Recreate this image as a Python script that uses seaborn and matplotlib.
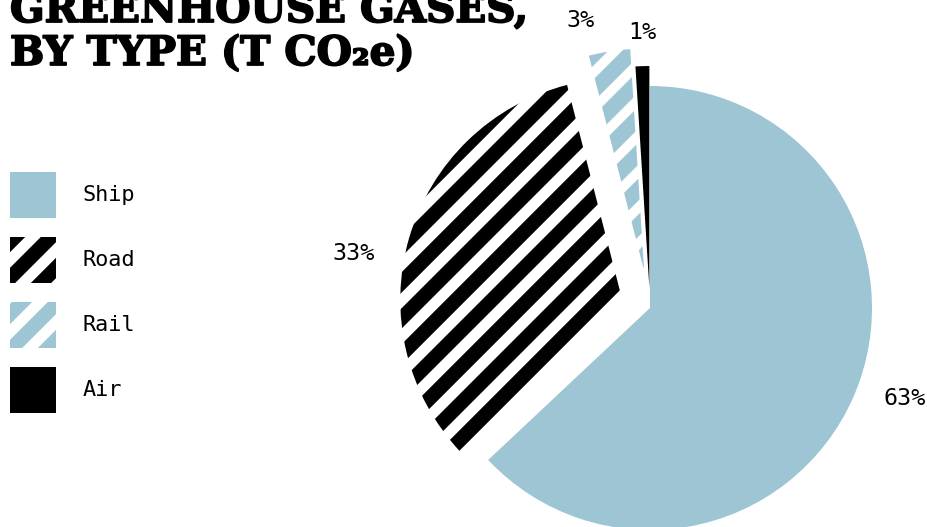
import matplotlib
matplotlib.use("Agg")
import matplotlib.pyplot as plt
import matplotlib.patheffects as pe
import seaborn as sns

# Transport emissions by mode (share of t CO2e)
modes = ["Ship", "Road", "Rail", "Air"]
shares = [63, 33, 3, 1]
title_lines = ["GREENHOUSE GASES,", "BY TYPE (T CO₂e)"]

LIGHT_BLUE = "#9dc5d3"
face_colors = [LIGHT_BLUE, "white", "white", "black"]
stripe_colors = [LIGHT_BLUE, "black", LIGHT_BLUE, "black"]
hatches = [None, "//", "//", None]
stripe_widths = [1.0, 4.8, 5.2, 1.0]
explode = [0.0, 0.13, 0.17, 0.09]
# nudges for the percentage labels, in pixels (right, down)
label_nudge = [(10, -15), (-13, 28), (-22, 13), (1, 11)]

sns.set_theme(style="white")
plt.rcParams["hatch.linewidth"] = 4.8

DPI = 216
W, H = 927, 527
fig = plt.figure(figsize=(W / DPI, H / DPI), dpi=DPI)
ax = fig.add_axes([0, 0, 1, 1])

mono = dict(family="DejaVu Sans Mono", size=7.8, color="black")
wedges, texts, autotexts = ax.pie(
    shares, explode=explode, startangle=90, counterclock=False,
    colors=face_colors, autopct=lambda p: f"{p:.0f}%", pctdistance=1.2,
    wedgeprops=dict(linewidth=0), textprops=mono,
)
for w, ec, h, lw in zip(wedges, stripe_colors, hatches, stripe_widths):
    w.set_edgecolor(ec)
    w.set_linewidth(0)
    if h:
        w.set_hatch(h)
        if hasattr(w, "set_hatch_linewidth"):
            w.set_hatch_linewidth(lw)

# pie centre at (650, 308) px, radius 222 px
R, cx, cy = 222, 650, 308
ax.set_xlim(-cx / R, (W - cx) / R)
ax.set_ylim(-(H - cy) / R, cy / R)
ax.set_aspect("auto")
ax.axis("off")

for t, (dx, dy) in zip(autotexts, label_nudge):
    x, y = t.get_position()
    t.set_position((x + dx / R, y - dy / R))

fig.legend(
    wedges, modes, loc="upper left", bbox_to_anchor=(10 / W, 1 - 172 / H),
    frameon=False, borderpad=0, borderaxespad=0, handlelength=2.1,
    handleheight=2.85, handletextpad=1.2, labelspacing=0.87,
    prop=dict(family="DejaVu Sans Mono", size=7.3), labelcolor="black",
)

title_font = dict(family="DejaVu Serif", weight="bold", size=13.5,
                  color="black", va="baseline", ha="left",
                  path_effects=[pe.withStroke(linewidth=0.6, foreground="black")])
fig.text(10 / W, 1 - 22 / H, title_lines[0], **title_font)
fig.text(10 / W, 1 - 65 / H, title_lines[1], **title_font)

fig.savefig("out.png", dpi=DPI)
